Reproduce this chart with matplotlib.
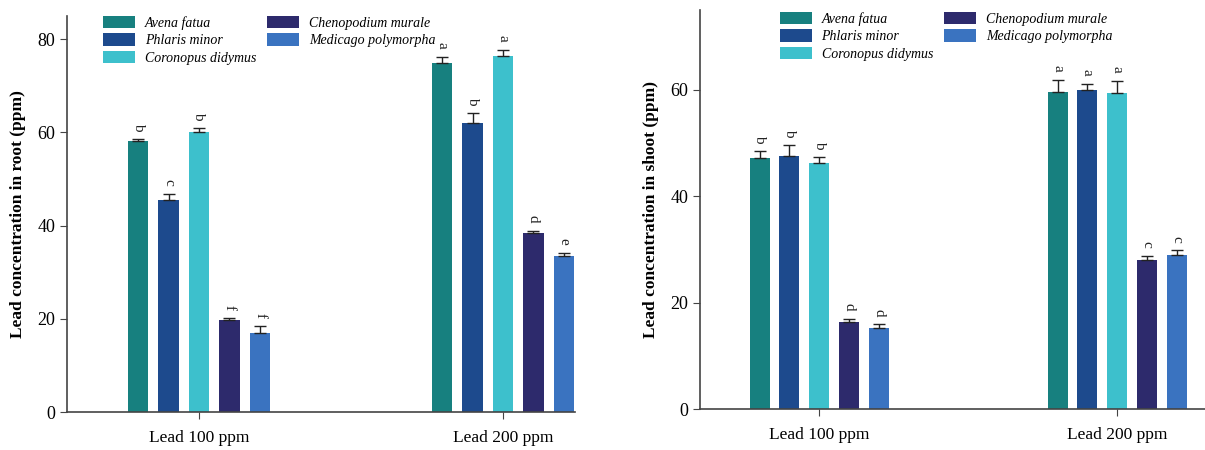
import numpy as np
import matplotlib
matplotlib.use('Agg')
import matplotlib.pyplot as plt

plt.rcParams['font.family'] = ['Liberation Serif', 'DejaVu Serif']

species = ['Avena fatua', 'Phlaris minor', 'Coronopus didymus',
           'Chenopodium murale', 'Medicago polymorpha']
colors = ['#17807f', '#1d4a8d', '#3dc0cc', '#2d2a6c', '#3a73c0']
groups = ['Lead 100 ppm', 'Lead 200 ppm']

# root Pb (ppm), rows = species, cols = treatment
root_mean = [[58.2, 75.0],
             [45.5, 62.0],
             [60.2, 76.5],
             [19.8, 38.5],
             [17.0, 33.5]]
root_err = [[0.5, 1.3],
            [1.3, 2.2],
            [0.8, 1.3],
            [0.4, 0.4],
            [1.5, 0.6]]
root_sig = [['b', 'a'], ['c', 'b'], ['b', 'a'], ['f', 'd'], ['f', 'e']]

# shoot Pb (ppm)
shoot_mean = [[47.2, 59.5],
              [47.5, 60.0],
              [46.2, 59.3],
              [16.3, 28.0],
              [15.2, 29.0]]
shoot_err = [[1.3, 2.3],
             [2.1, 1.1],
             [1.2, 2.3],
             [0.7, 0.7],
             [0.7, 0.8]]
shoot_sig = [['b', 'a'], ['b', 'a'], ['b', 'a'], ['d', 'c'], ['d', 'c']]

fig = plt.figure(figsize=(12.05, 4.5), dpi=100)
ax1 = fig.add_axes([0.0556, 0.0844, 0.4216, 0.88])
ax2 = fig.add_axes([0.581, 0.0911, 0.419, 0.887])


def draw(ax, mean, err, sig, ylabel, ymax, yticks, xlim, leg_anchor):
    x = np.arange(len(groups))
    step, w = 0.1, 0.067
    for i, name in enumerate(species):
        pos = x + (i - 2) * step
        # upper error bars only
        ax.bar(pos, mean[i], width=w, color=colors[i], label=name,
               yerr=[np.zeros(len(groups)), err[i]], capsize=4,
               error_kw=dict(ecolor='#222222', elinewidth=1, capthick=1))
        for p, m, e, s in zip(pos, mean[i], err[i], sig[i]):
            ax.text(p, m + e + ymax * 0.02, s, rotation=-90,
                    ha='center', va='bottom', fontsize=11, color='#222222')
    ax.set_ylim(0, ymax)
    ax.set_xlim(*xlim)
    ax.set_yticks(yticks)
    ax.set_xticks(x)
    ax.set_xticklabels(groups, fontsize=12.5)
    ax.tick_params(axis='y', labelsize=13, length=5, color='#444444')
    ax.tick_params(axis='x', length=5, pad=8, color='#444444')
    for s in ['top', 'right']:
        ax.spines[s].set_visible(False)
    for s in ['left', 'bottom']:
        ax.spines[s].set_color('#444444')
        ax.spines[s].set_linewidth(1.2)
    ax.set_ylabel(ylabel, fontsize=12.5, fontweight='bold', labelpad=8)
    ax.legend(ncol=2, frameon=False, loc='upper left',
              bbox_to_anchor=leg_anchor, borderaxespad=0, borderpad=0,
              handlelength=2.3, handleheight=1.0,
              columnspacing=0.8, labelspacing=0.25, handletextpad=0.7,
              prop={'style': 'italic', 'size': 10})


draw(ax1, root_mean, root_err, root_sig, 'Lead concentration in root (ppm)',
     85, [0, 20, 40, 60, 80], (-0.434, 1.237), (0.071, 1.0))
draw(ax2, shoot_mean, shoot_err, shoot_sig, 'Lead concentration in shoot (ppm)',
     75, [0, 20, 40, 60], (-0.40, 1.295), (0.158, 0.995))

fig.savefig('out.png', dpi=100)
